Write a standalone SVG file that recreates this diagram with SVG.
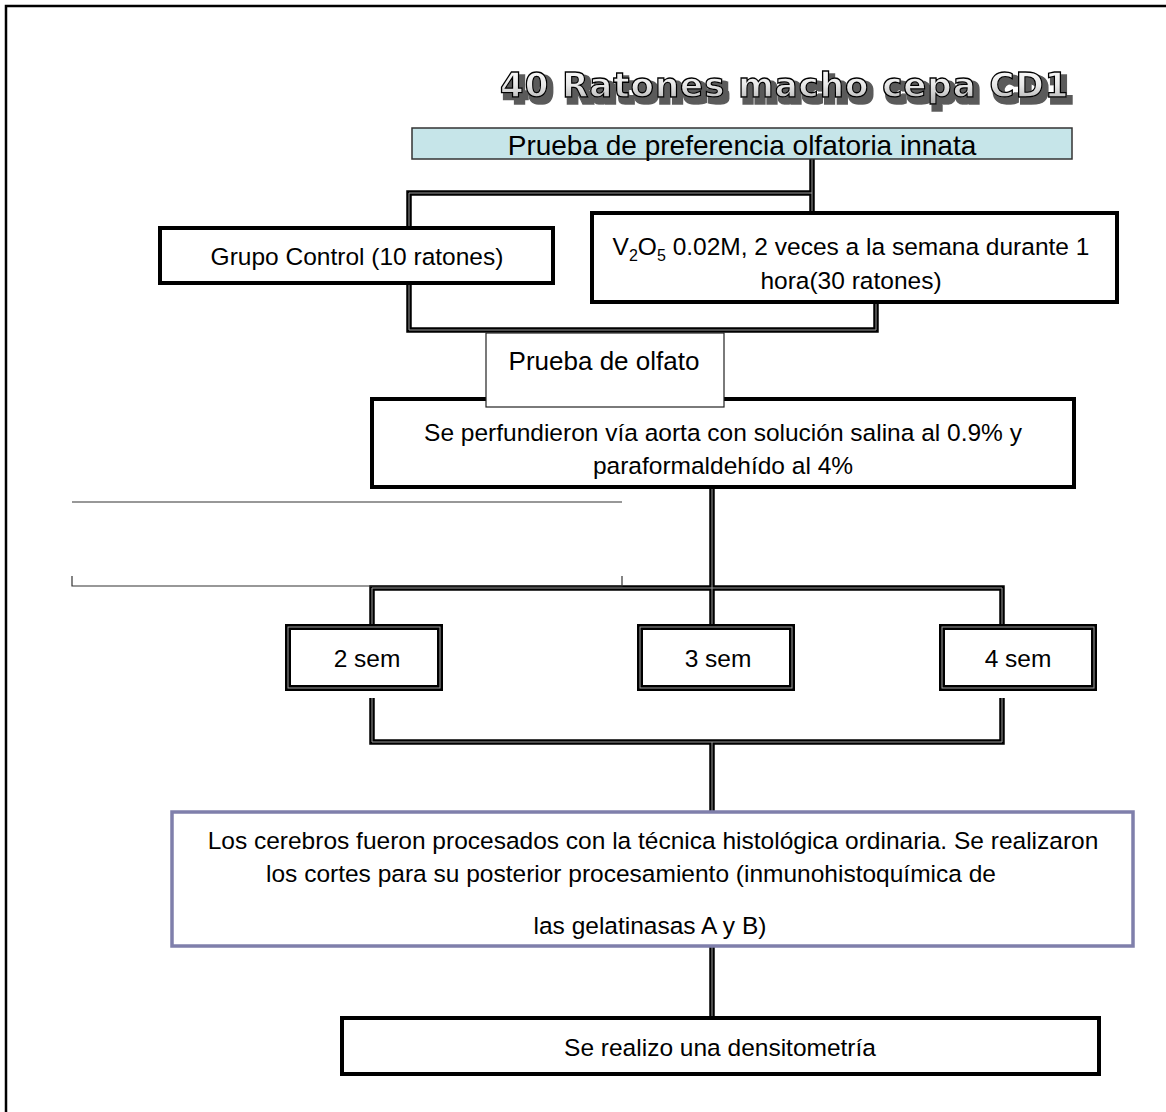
<svg xmlns="http://www.w3.org/2000/svg" xmlns:xlink="http://www.w3.org/1999/xlink" width="1166" height="1112" viewBox="0 0 1166 1112">
<style>
.t{font-family:"Liberation Sans",Arial,sans-serif;font-size:24.5px;fill:#000;text-anchor:middle}
.box{fill:#fff;stroke:#000;stroke-width:4}
.thin{fill:#fff;stroke:#222;stroke-width:1.2}
.dblo{fill:none;stroke:#000;stroke-width:5.5}
.dbli{fill:none;stroke:#9a9a9a;stroke-width:1}
.semo{fill:#fff;stroke:#000;stroke-width:6}
.semi{fill:none;stroke:#a0a0a0;stroke-width:1}
.hair{fill:none;stroke:#333;stroke-width:1.2}
.title{font-family:"DejaVu Sans",Verdana,sans-serif;font-weight:bold;font-size:34px;letter-spacing:1px}
</style>
<defs>
<linearGradient id="tg" x1="0" y1="0" x2="0" y2="1">
<stop offset="0" stop-color="#ffffff"/>
<stop offset="0.5" stop-color="#e8e8e8"/>
<stop offset="1" stop-color="#a8a8a8"/>
</linearGradient>
<filter id="shadow" x="-5%" y="-30%" width="110%" height="160%">
<feMorphology in="SourceAlpha" operator="dilate" radius="1.5" result="d"/>
<feOffset in="d" dx="4" dy="5" result="o"/>
<feFlood flood-color="#5a5a5a"/>
<feComposite in2="o" operator="in" result="s"/>
<feMerge><feMergeNode in="s"/><feMergeNode in="SourceGraphic"/></feMerge>
</filter>
<path id="c1" d="M812,159 V213 M812,193 H409 V330 H876 V302"/>
<path id="c2" d="M712,487 V626 M372,626 V588 H1002 V626"/>
<path id="c3" d="M372,698 V742 H1002 V698 M712,742 V812"/>
<path id="c4" d="M712,946 V1018"/>
</defs>

<g id="frame">
<path d="M6,1112 V6 H1166" fill="none" stroke="#000" stroke-width="2.5"/>
</g>

<g id="title">
<text class="title" x="500" y="97" fill="url(#tg)" stroke="#000" stroke-width="1.3" filter="url(#shadow)">40 Ratones macho cepa CD1</text>
</g>

<g id="connectors">
<use xlink:href="#c1" class="dblo"/><use xlink:href="#c1" class="dbli"/>
<use xlink:href="#c2" class="dblo"/><use xlink:href="#c2" class="dbli"/>
<use xlink:href="#c3" class="dblo"/><use xlink:href="#c3" class="dbli"/>
<use xlink:href="#c4" class="dblo"/><use xlink:href="#c4" class="dbli"/>
<path class="hair" d="M72,502 H622"/>
<path class="hair" d="M72,576 V586 H622 V576"/>
</g>

<g id="preferencia">
<rect x="412" y="128" width="660" height="31" fill="#c6e5e9" stroke="#333" stroke-width="1.5"/>
<text class="t" x="742" y="155" style="font-size:28px">Prueba de preferencia olfatoria innata</text>
</g>

<g id="control">
<rect class="box" x="160" y="228" width="393" height="55"/>
<text class="t" x="357" y="265">Grupo Control (10 ratones)</text>
</g>

<g id="v2o5">
<rect class="box" x="592" y="213" width="525" height="89"/>
<text class="t" x="851" y="255">V<tspan font-size="16" dy="6">2</tspan><tspan dy="-6">O</tspan><tspan font-size="16" dy="6">5</tspan><tspan dy="-6"> 0.02M, 2 veces a la semana durante 1</tspan></text>
<text class="t" x="851" y="289">hora(30 ratones)</text>
</g>

<g id="perfusion">
<rect class="box" x="372" y="399" width="702" height="88"/>
<text class="t" x="723" y="441">Se perfundieron vía aorta con solución salina al 0.9% y</text>
<text class="t" x="723" y="474">paraformaldehído al 4%</text>
</g>

<g id="olfato">
<rect class="thin" x="486" y="333" width="238" height="74"/>
<text class="t" x="604" y="370" style="font-size:26px">Prueba de olfato</text>
</g>

<g id="sem2">
<rect class="semo" x="288" y="627" width="152" height="61"/>
<rect class="semi" x="288" y="627" width="152" height="61"/>
<text class="t" x="367" y="667">2 sem</text>
</g>
<g id="sem3">
<rect class="semo" x="640" y="627" width="152" height="61"/>
<rect class="semi" x="640" y="627" width="152" height="61"/>
<text class="t" x="718" y="667">3 sem</text>
</g>
<g id="sem4">
<rect class="semo" x="942" y="627" width="152" height="61"/>
<rect class="semi" x="942" y="627" width="152" height="61"/>
<text class="t" x="1018" y="667">4 sem</text>
</g>

<g id="cerebros">
<rect x="172" y="812" width="961" height="134" fill="#fff" stroke="#7f7fab" stroke-width="3.5"/>
<text class="t" x="653" y="849">Los cerebros fueron procesados con la técnica histológica ordinaria. Se realizaron</text>
<text class="t" x="631" y="882">los cortes para su posterior procesamiento (inmunohistoquímica de</text>
<text class="t" x="650" y="934">las gelatinasas A y B)</text>
</g>

<g id="densitometria">
<rect class="box" x="342" y="1018" width="757" height="56"/>
<text class="t" x="720" y="1056">Se realizo una densitometría</text>
</g>
</svg>
